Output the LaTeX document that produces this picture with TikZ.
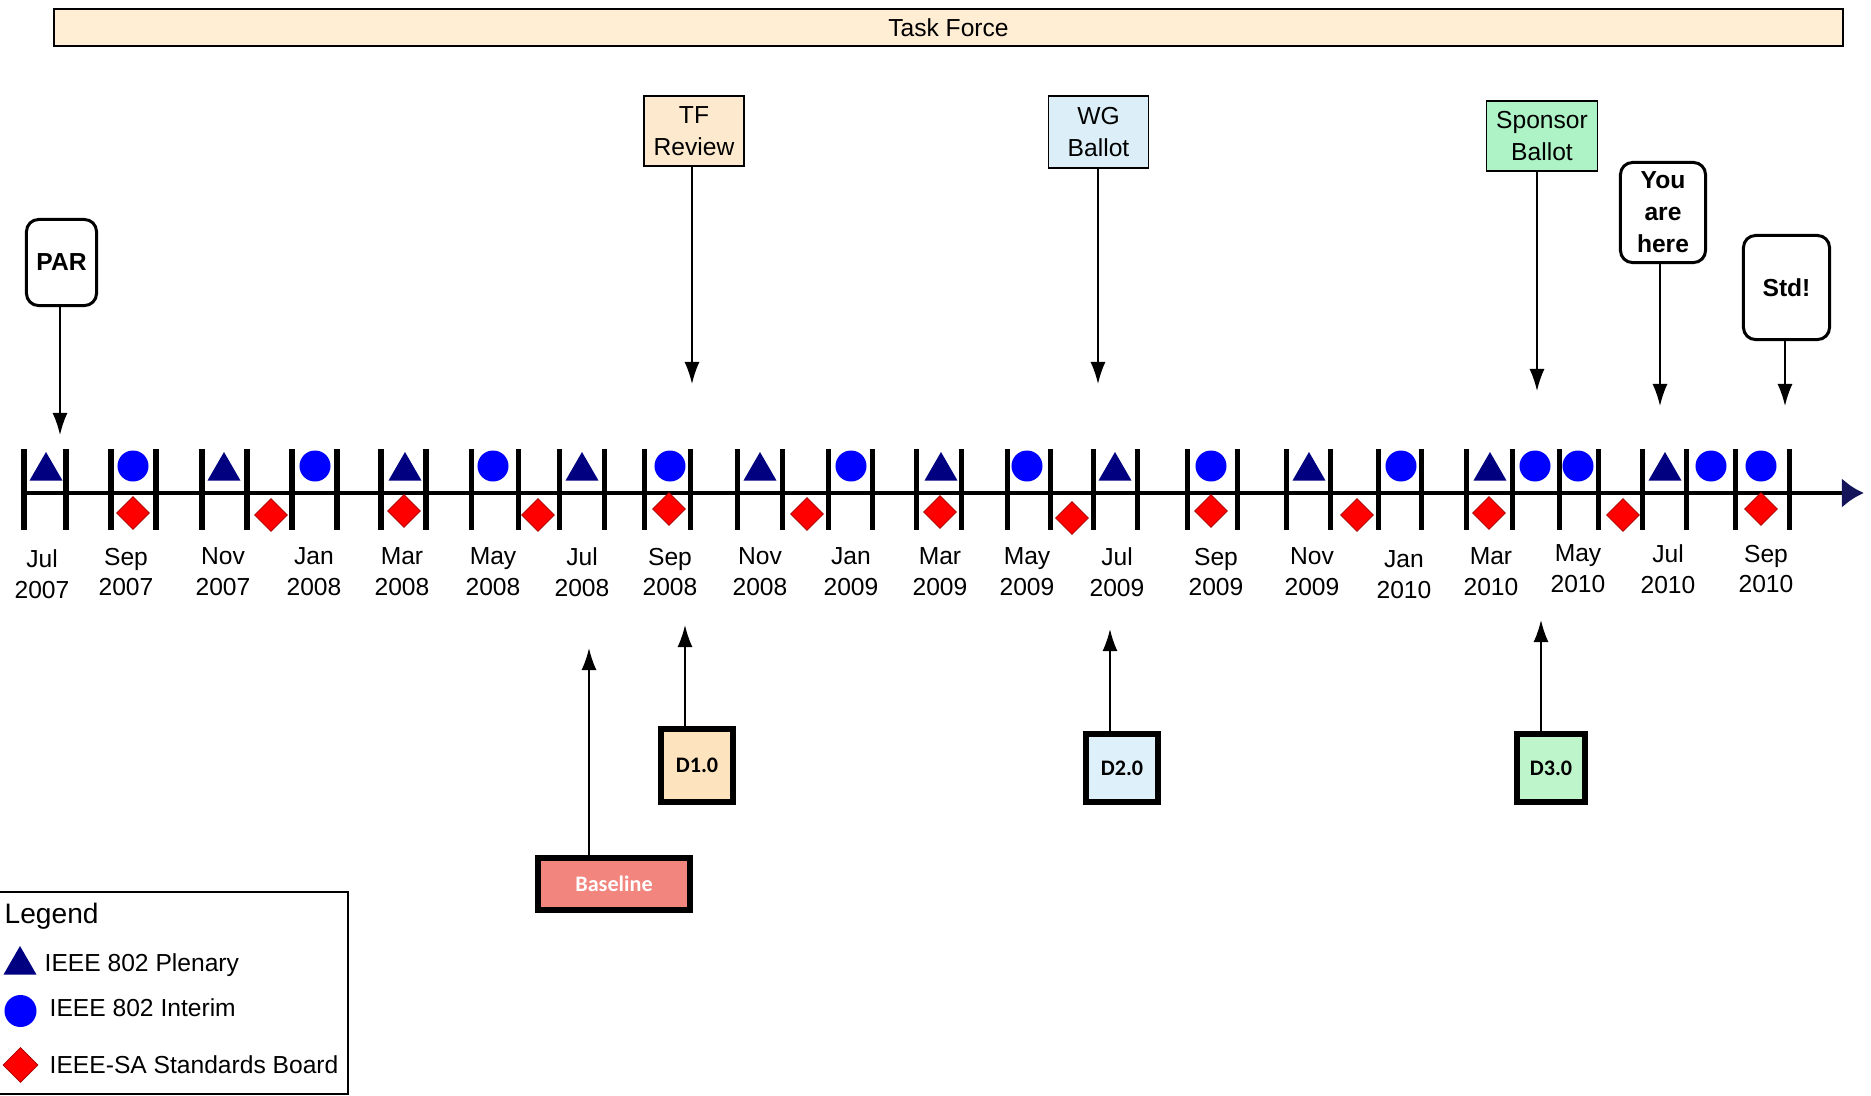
\documentclass[tikz,border=0pt]{standalone}
\usepackage{fontspec}
\setmainfont{Liberation Sans}
\newfontfamily\narrowfont{Carlito}
\usepackage{xcolor}
\usepackage{tikz}
\usetikzlibrary{shapes.geometric}
\usetikzlibrary{arrows.meta}

\definecolor{tfcream}{RGB}{255,237,212}
\definecolor{reviewtan}{RGB}{253,234,206}
\definecolor{wgblue}{RGB}{220,239,248}
\definecolor{sbgreen}{RGB}{174,243,197}
\definecolor{dorange}{RGB}{253,228,190}
\definecolor{dblue}{RGB}{222,241,251}
\definecolor{dgreen}{RGB}{190,245,203}
\definecolor{basered}{RGB}{242,133,126}
\definecolor{plenblue}{RGB}{0,0,128}
\definecolor{tipnavy}{RGB}{20,20,90}

\tikzset{
    monthtick/.style = {line width=0.05cm},
    axisline/.style = {line width=0.045cm, -{Latex[length=0.22cm, width=0.3cm, color=tipnavy]}},
    callarrow/.style = {line width=0.018cm, -{Latex[length=0.22cm, width=0.15cm]}},
    squarebox/.style = {draw, line width=0.015cm, align=center, inner sep=0},
    roundbox/.style = {draw, rounded corners=0.12cm, line width=0.03cm, align=center, inner sep=0,
        font=\fontsize{7}{9.1}\selectfont\bfseries},
    draftbox/.style = {draw, line width=0.06cm, inner sep=0,
        font=\narrowfont\fontsize{6.3}{7}\selectfont\bfseries},
    plenary/.style = {regular polygon, regular polygon sides=3, fill=plenblue, inner sep=0, minimum size=0.38cm},
    interim/.style = {circle, fill=blue, inner sep=0, minimum size=0.31cm},
    board/.style = {diamond, fill=red, draw=red!65!black, line width=0.2pt, inner sep=0, minimum size=0.33cm},
    monthlabel/.style = {align=center, inner sep=0, font=\fontsize{7}{8.8}\selectfont}
}

\begin{document}
\begin{tikzpicture}[x=0.01cm, y=-0.01cm, font=\fontsize{7}{9.1}\selectfont]
        \useasboundingbox (0,0) rectangle (1871,1096);

        \node[squarebox, fill=tfcream, minimum width=17.88cm, minimum height=0.37cm] (taskforce) at (948.5,27.5) {Task Force};

        \node[squarebox, fill=reviewtan, minimum width=1.0cm, minimum height=0.70cm] (tfreview) at (694,131) {TF\\Review};
        \node[squarebox, fill=wgblue, minimum width=1.0cm, minimum height=0.72cm] (wgballot) at (1098.5,132) {WG\\Ballot};
        \node[squarebox, fill=sbgreen, minimum width=1.11cm, minimum height=0.70cm] (sponsor) at (1542,136) {Sponsor\\Ballot};
        \node[roundbox, minimum width=0.70cm, minimum height=0.86cm] (par) at (61.5,262.5) {PAR};
        \node[roundbox, minimum width=0.85cm, minimum height=1.0cm] (here) at (1663,212.5) {You\\are\\here};
        \node[roundbox, minimum width=0.86cm, minimum height=1.04cm] (std) at (1786.5,287.5) {Std!};

        \coordinate (partip) at (60,435);
        \coordinate (tftip) at (692,384);
        \coordinate (wgtip) at (1098,384);
        \coordinate (sbtip) at (1537,391);
        \coordinate (heretip) at (1660,406);
        \coordinate (stdtip) at (1785,406);
        \draw[callarrow] (par.south -| partip) -- (partip);
        \draw[callarrow] (tfreview.south -| tftip) -- (tftip);
        \draw[callarrow] (wgballot.south -| wgtip) -- (wgtip);
        \draw[callarrow] (sponsor.south -| sbtip) -- (sbtip);
        \draw[callarrow] (here.south -| heretip) -- (heretip);
        \draw[callarrow] (std.south -| stdtip) -- (stdtip);

        \coordinate (axstart) at (24,493);
        \coordinate (axend) at (1864,493);
        \draw[axisline] (axstart) -- (axend);

        \foreach \x in {24,66,111,156,202,247,292,337,381,426,471,518,559,604,644,690,737,782,828,872,
                        916,961,1007,1050,1093,1137,1187,1237,1286,1330,1378,1421,1466,1512,1559,1598,1642,1686,1735,1789}
            \draw[monthtick] (\x,449) -- (\x,530);

        \foreach \x [count=\i] in {46,224,405,582,760,941,1115,1309,1490,1665}
            \node[plenary] (plen\i) at (\x,471) {};
        \foreach \x [count=\i] in {133,315,493,670,851,1027,1211,1401,1535,1578,1711,1761}
            \node[interim] (intr\i) at (\x,466) {};
        \foreach \x/\y [count=\i] in {133/513,271/515,404/511,538/515,669/509,807/514,940/512,1072/518,1211/511,1357/515,1489/513,1623/515,1761/509}
            \node[board] (sasb\i) at (\x,\y) {};

        \foreach \x/\m/\yr/\y [count=\i] in {42/Jul/2007/574,126/Sep/2007/572,223/Nov/2007/572,314/Jan/2008/572,
                402/Mar/2008/572,493/May/2008/572,582/Jul/2008/572,670/Sep/2008/572,760/Nov/2008/572,
                851/Jan/2009/572,940/Mar/2009/572,1027/May/2009/572,1117/Jul/2009/572,1216/Sep/2009/572,
                1312/Nov/2009/572,1404/Jan/2010/575,1491/Mar/2010/572,1578/May/2010/569,1668/Jul/2010/569,1766/Sep/2010/569}
            \node[monthlabel] (mon\i) at (\x,\y) {\m\\\yr};

        \node[draftbox, fill=dorange, minimum width=0.72cm, minimum height=0.73cm] (done) at (697,765.5) {D1.0};
        \node[draftbox, fill=basered, text=white, minimum width=1.52cm, minimum height=0.52cm] (baseline) at (614,884) {Baseline};
        \node[draftbox, fill=dblue, minimum width=0.72cm, minimum height=0.68cm] (dtwo) at (1122,768) {D2.0};
        \node[draftbox, fill=dgreen, minimum width=0.68cm, minimum height=0.68cm] (dthree) at (1551,768) {D3.0};

        \coordinate (basetip) at (589,648);
        \coordinate (donetip) at (685,625);
        \coordinate (dtwotip) at (1110,629);
        \coordinate (dthreetip) at (1541,620);
        \draw[callarrow] (baseline.north -| basetip) -- (basetip);
        \draw[callarrow] (done.north -| donetip) -- (donetip);
        \draw[callarrow] (dtwo.north -| dtwotip) -- (dtwotip);
        \draw[callarrow] (dthree.north -| dthreetip) -- (dthreetip);

        \draw[line width=0.015cm] (-5,892) rectangle (348,1094);
        \node[anchor=west, inner sep=0, font=\fontsize{8}{9}\selectfont] (legtitle) at (4,916) {Legend};
        \node[plenary] (legplen) at (20,965) {};
        \node[anchor=west, inner sep=0] (legplentext) at (44,965) {IEEE 802 Plenary};
        \node[interim, minimum size=0.32cm] (legintr) at (20.5,1011) {};
        \node[anchor=west, inner sep=0] (legintrtext) at (49,1008) {IEEE 802 Interim};
        \node[board, minimum size=0.35cm] (legsasb) at (20.5,1065) {};
        \node[anchor=west, inner sep=0] (legsasbtext) at (49,1065) {IEEE-SA Standards Board};
\end{tikzpicture}
\end{document}
